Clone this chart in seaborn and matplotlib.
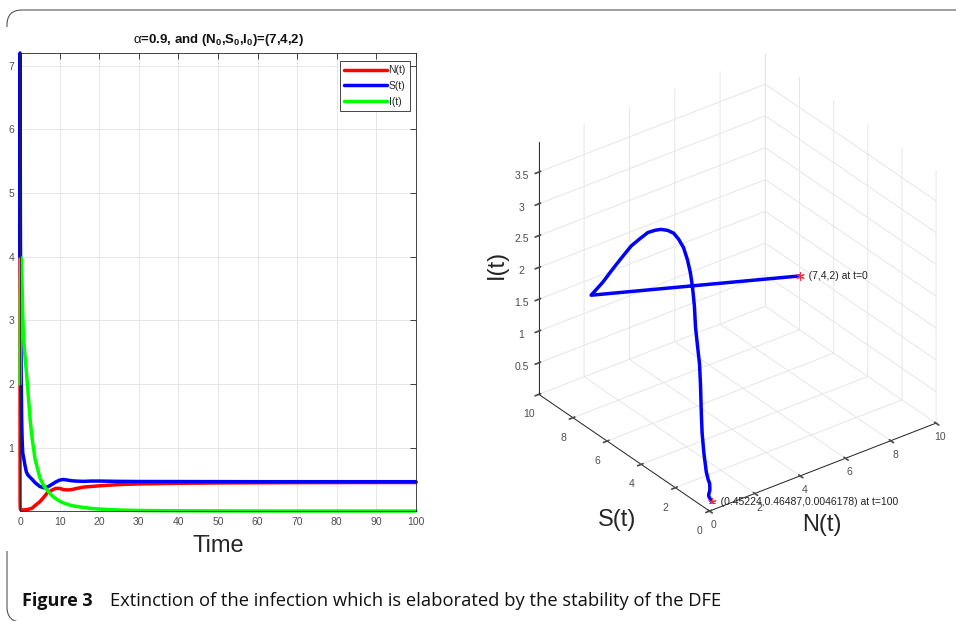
import numpy as np
import pandas as pd
import matplotlib
matplotlib.use("Agg")
import matplotlib.pyplot as plt
import seaborn as sns
from matplotlib.patches import FancyBboxPatch, Rectangle

# time samples of the fractional model solution
t = [0, 0.02, 0.04, 0.06, 0.08, 0.1, 0.13, 0.16, 0.19, 0.22,
     0.26, 0.3, 0.35, 0.4, 0.46, 0.53, 0.6, 0.7, 0.9, 1.2,
     1.6, 2.0, 2.6, 3.1, 3.8, 5.0, 6.0, 6.9, 8, 9,
     10, 11, 12, 13, 14, 16, 18, 20, 25, 30,
     40, 50, 60, 70, 80, 90, 100]
N = [7.0, 0.2, 0.1, 0.06, 0.045, 0.035, 0.03, 0.028, 0.025, 0.022,
     0.02, 0.02, 0.02, 0.02, 0.02, 0.02, 0.02, 0.02, 0.021, 0.022,
     0.025, 0.03, 0.04, 0.05, 0.09, 0.15, 0.22, 0.29, 0.33, 0.36,
     0.36, 0.34, 0.335, 0.34, 0.355, 0.38, 0.39, 0.40, 0.42, 0.43,
     0.44, 0.445, 0.448, 0.45, 0.451, 0.452, 0.45224]
S = [4.0, 7.2, 6.38, 5.80, 5.22, 4.63, 4.11, 3.65, 3.24, 2.89,
     2.48, 2.13, 1.84, 1.55, 1.32, 1.15, 1.03, 0.91, 0.85, 0.74,
     0.62, 0.57, 0.53, 0.50, 0.45, 0.39, 0.37, 0.38, 0.42, 0.46,
     0.49, 0.50, 0.49, 0.48, 0.475, 0.47, 0.475, 0.475, 0.47, 0.468,
     0.467, 0.466, 0.465, 0.465, 0.465, 0.465, 0.46487]
I = [2.0, 2.05, 2.42, 2.72, 3.02, 3.32, 3.53, 3.71, 3.82, 3.90,
     3.96, 3.98, 3.94, 3.86, 3.71, 3.54, 3.35, 3.05, 2.74, 2.48,
     2.20, 1.89, 1.41, 1.13, 0.82, 0.53, 0.40, 0.33, 0.25, 0.20,
     0.16, 0.13, 0.11, 0.09, 0.08, 0.06, 0.045, 0.035, 0.02, 0.012,
     0.008, 0.006, 0.005, 0.0048, 0.0047, 0.0046, 0.0046178]

series_names = ['N(t)', 'S(t)', 'I(t)']
series_colors = ['#ff0000', '#0000ff', '#00ff00']
time_ticks = list(range(0, 101, 10))
value_ticks = [1, 2, 3, 4, 5, 6, 7]
n_ticks = [0, 2, 4, 6, 8, 10]
s_ticks = [0, 2, 4, 6, 8, 10]
i_ticks = [0.5, 1, 1.5, 2, 2.5, 3, 3.5]

sns.set_theme(style="white")
plt.rcParams['font.family'] = ['Liberation Sans', 'DejaVu Sans']
plt.rcParams['mathtext.fontset'] = 'custom'
plt.rcParams['mathtext.rm'] = 'Liberation Sans:bold'
plt.rcParams['mathtext.it'] = 'Liberation Sans'
plt.rcParams['mathtext.bf'] = 'Liberation Sans:bold'

AX_C = '#262626'
TICK_C = '#4d4d4d'
GRID_C = '#e6e6e6'

df = pd.DataFrame({'t': t, 'N(t)': N, 'S(t)': S, 'I(t)': I})
long = df.melt(id_vars='t', value_vars=series_names, var_name='series', value_name='value')

fig = plt.figure(figsize=(9.56, 6.21), dpi=100)

# frame of the journal figure
frame = FancyBboxPatch((0.07, -0.01), 10, 6.12, boxstyle="round,pad=0,rounding_size=0.15",
                       transform=fig.dpi_scale_trans, facecolor='none', edgecolor='#555555',
                       lw=0.8, zorder=-2)
fig.add_artist(frame)
fig.add_artist(Rectangle((0.03, 0.70), 0.08, 5.24, transform=fig.dpi_scale_trans,
                         facecolor='white', edgecolor='none', zorder=-1))

# left: time series
ax = fig.add_axes([20 / 956, 110 / 621, 396 / 956, 458 / 621])
sns.lineplot(data=long, x='t', y='value', hue='series', hue_order=series_names,
             palette=dict(zip(series_names, series_colors)), linewidth=2.5, ax=ax)
for ln in ax.lines:
    ln.set_clip_on(False)
ax.set_xlim(0, 100)
ax.set_ylim(min(N + S + I), max(N + S + I))
ax.set_xticks(time_ticks)
ax.set_yticks(value_ticks)
ax.grid(True, color=GRID_C, linewidth=0.7)
ax.tick_params(direction='in', top=True, right=True, length=4, width=0.6, color=AX_C,
               labelcolor=TICK_C, labelsize=7.5, pad=4)
for sp in ax.spines.values():
    sp.set_color(AX_C)
    sp.set_linewidth(0.6)
ax.set_xlabel('Time', fontsize=17, color=AX_C, labelpad=6)
ax.set_ylabel('')
ax.set_title(r'$\alpha$=0.9, and (N$_0$,S$_0$,I$_0$)=(7,4,2)', fontsize=9.5, fontweight='bold',
             color='#111111', pad=7)
handles, labels = ax.get_legend_handles_labels()
leg = ax.legend(handles, labels, loc='upper right', bbox_to_anchor=(0.985, 0.982),
                fontsize=7.5, frameon=True, fancybox=False,
                edgecolor=AX_C, framealpha=1, handlelength=4.2, handletextpad=0.1,
                labelspacing=0.55, borderpad=0.4, borderaxespad=0)
leg.get_frame().set_linewidth(0.6)

# right: 3D trajectory
ax3 = fig.add_axes([0.5403, 0.111, 0.45, 0.85], projection='3d', proj_type='ortho')
ax3.plot(N, S, I, color='#0000ff', linewidth=2.5)
ends = [0, len(t) - 1]
ax3.plot([N[k] for k in ends], [S[k] for k in ends], [I[k] for k in ends], linestyle='none',
         marker=(6, 2, 0), color='#ff3030', markersize=6, markeredgewidth=0.8)
for k in ends:
    ax3.text(N[k], S[k], I[k], f'   ({N[k]:g},{S[k]:g},{I[k]:g}) at t={t[k]:g}',
             fontsize=7.5, color='#222222', va='center')
ax3.view_init(elev=31, azim=-127)
ax3.set_box_aspect((1, 1, 1.04), zoom=1.1236)
ax3.set_xlim(0, 10)
ax3.set_ylim(0, 10)
ax3.set_zlim(min(I), max(I))
ax3.set_xticks(n_ticks)
ax3.set_yticks(s_ticks)
ax3.set_zticks(i_ticks)
ax3.set_zticklabels([f'{v:g}' for v in i_ticks])
for axis in (ax3.xaxis, ax3.yaxis, ax3.zaxis):
    axis.set_pane_color((1, 1, 1, 0))
    axis.pane.set_edgecolor(GRID_C)
    axis._axinfo['grid'].update(color=GRID_C, linewidth=0.7)
    axis.line.set_color(AX_C)
    axis.line.set_linewidth(0.7)
    axis.set_rotate_label(False)
    axis.offsetText.set_visible(False)
ax3.xaxis.label.set_visible(False)
ax3.yaxis.label.set_visible(False)
ax3.tick_params(axis='x', labelsize=7.5, colors=TICK_C, pad=-4)
ax3.tick_params(axis='y', labelsize=7.5, colors=TICK_C, pad=-1)
ax3.tick_params(axis='z', labelsize=7.5, colors=TICK_C, pad=-1)
ax3.set_zlabel('I(t)', fontsize=17, color=AX_C, rotation=90, labelpad=-4)
fig.text(822 / 956, 1 - 525 / 621, 'N(t)', fontsize=17, color=AX_C, ha='center', va='center')
fig.text(617 / 956, 1 - 520 / 621, 'S(t)', fontsize=17, color=AX_C, ha='center', va='center')

# caption
fig.text(22 / 956, 20 / 621, 'Figure 3', fontsize=13, fontweight='bold', family='Open Sans',
         color='#111111', va='center')
fig.text(110 / 956, 20 / 621, 'Extinction of the infection which is elaborated by the stability of the DFE',
         fontsize=13.2, family='Open Sans', color='#111111', va='center')

fig.savefig('out.png', dpi=100)
